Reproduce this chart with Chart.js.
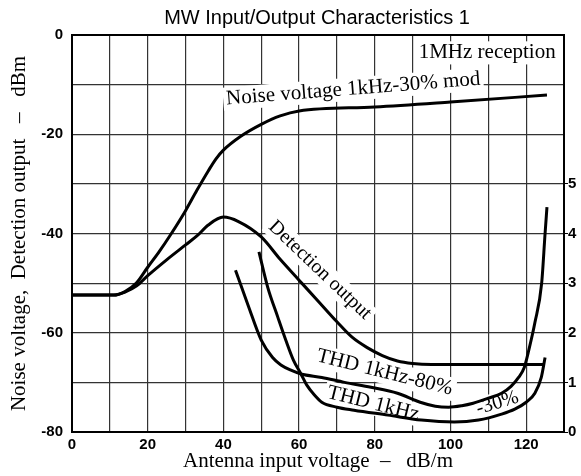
<!DOCTYPE html>
<html>
<head>
<meta charset="utf-8">
<script src="https://cdn.jsdelivr.net/npm/chart.js@4.4.1/dist/chart.umd.min.js"></script>
<style>
  body { margin: 0; background: #fff; }
  #wrap { width: 581px; height: 476px; position: relative; }
</style>
</head>
<body>
<div id="wrap"><canvas id="chart"></canvas></div>
<script>
// Values.
// Noise voltage and detection output are in dBm (left axis).
const noiseX = [0, 11, 14, 17, 20, 23, 26, 30, 33, 36, 38, 40, 44.6, 50, 55, 60, 80, 100, 125.5];
const noiseY = [-52.4, -52.4, -51.7, -50.0, -46.8, -43.7, -40.3, -35.4, -31.3, -27.4, -25.0, -23.2, -20.4, -18.0, -16.3, -15.3, -14.5, -13.5, -12.1];

const detX = [0, 11, 14, 17, 20, 25, 30, 33, 36, 40, 44, 50, 55, 60, 65, 70, 74, 78, 82, 86, 90, 95, 124.5];
const detY = [-52.4, -52.4, -51.8, -50.6, -48.5, -45.3, -42.3, -40.5, -38.3, -36.7, -37.6, -40.7, -45.2, -49.4, -53.6, -57.8, -60.9, -63, -64.6, -65.7, -66.2, -66.4, -66.4];

// THD curves are in % (right axis)
const thd80X = [43.2, 46.5, 50, 53, 55.2, 58, 60.5, 66, 72, 79, 86, 92, 96, 99.5, 103, 106, 110, 113.5, 116, 118, 119.5, 120.7, 122.3, 124.1, 125, 125.5];
const thd80Y = [3.26, 2.56, 1.85, 1.5, 1.35, 1.24, 1.17, 1.1, 1.0, 0.9, 0.78, 0.6, 0.52, 0.5, 0.53, 0.58, 0.68, 0.78, 0.92, 1.1, 1.3, 1.65, 2.2, 3.0, 4.0, 4.53];

const thd30X = [49.4, 51.7, 54.4, 56.5, 58.5, 60.5, 62, 64, 66, 70, 74.5, 83.5, 92.3, 101, 107.4, 113.5, 117, 120, 122.3, 124, 125];
const thd30Y = [3.63, 2.92, 2.31, 1.85, 1.45, 1.17, 0.95, 0.75, 0.6, 0.5, 0.44, 0.34, 0.24, 0.2, 0.24, 0.36, 0.46, 0.6, 0.78, 1.1, 1.5];

// tick labels that are printed
const xTickLabels = [0, 20, 40, 60, 80, 100, 120];
const leftTickLabels = [0, -20, -40, -60, -80];
const rightTickLabels = [0, 1, 2, 3, 4, 5];

// text written on the plot, placed in data units of the left axis
const curveLabels = [
  { text: '1MHz reception', x: 91.6, y: -3.6, angle: 0, size: 21, align: 'left' },
  { text: 'Noise voltage 1kHz-30% mod', x: 74.3, y: -10.9, angle: -4.5, size: 21 },
  { text: 'Detection output', x: 65.5, y: -47.4, angle: 43.6, size: 20 },
  { text: 'THD 1kHz-80%', x: 82.6, y: -68.0, angle: 14, size: 21 },
  { text: 'THD 1kHz', x: 79.6, y: -74.3, angle: 14, size: 21 },
  { text: '-30%', x: 112.4, y: -74.2, angle: -17, size: 20 },
];

function toPoints(xs, ys) {
  return xs.map((x, i) => ({ x: x, y: ys[i] }));
}

const serif = '"Liberation Serif", "Times New Roman", serif';
const sans = '"Liberation Sans", Arial, sans-serif';

// draws the labels (with white backing) and the frame, then the title
const labelPlugin = {
  id: 'curveLabels',
  beforeDatasetsDraw(chart) {
    const ctx = chart.ctx;
    const xs = chart.scales.x, ys = chart.scales.y;
    ctx.save();
    curveLabels.forEach(l => {
      const px = xs.getPixelForValue(l.x);
      const py = ys.getPixelForValue(l.y);
      ctx.save();
      ctx.translate(px, py);
      ctx.rotate(l.angle * Math.PI / 180);
      ctx.font = l.size + 'px ' + serif;
      ctx.textAlign = l.align || 'center';
      ctx.textBaseline = 'middle';
      const w = ctx.measureText(l.text).width;
      const x0 = l.align == 'left' ? 0 : -w / 2;
      ctx.fillStyle = '#fff';
      ctx.fillRect(x0 - 3, -l.size * 0.55, w + 6, l.size * 1.1);
      ctx.fillStyle = '#000';
      ctx.fillText(l.text, 0, 0);
      ctx.restore();
    });
    const a = chart.chartArea;
    ctx.strokeStyle = '#000';
    ctx.lineWidth = 2;
    ctx.strokeRect(a.left, a.top, a.right - a.left, a.bottom - a.top);
    ctx.restore();
  },
  afterDraw(chart) {
    const ctx = chart.ctx;
    ctx.save();
    ctx.font = '20px ' + sans;
    ctx.fillStyle = '#000';
    ctx.textAlign = 'center';
    ctx.textBaseline = 'alphabetic';
    ctx.fillText('MW Input/Output Characteristics 1', 317, 24);
    ctx.restore();
  }
};

const lineStyle = {
  borderColor: '#000',
  borderWidth: 3,
  pointRadius: 0,
  fill: false,
  cubicInterpolationMode: 'monotone',
};

new Chart(document.getElementById('chart'), {
  type: 'line',
  data: {
    datasets: [
      Object.assign({ label: 'Noise voltage', data: toPoints(noiseX, noiseY), yAxisID: 'y' }, lineStyle),
      Object.assign({ label: 'Detection output', data: toPoints(detX, detY), yAxisID: 'y' }, lineStyle),
      Object.assign({ label: 'THD 1kHz-80%', data: toPoints(thd80X, thd80Y), yAxisID: 'y2' }, lineStyle),
      Object.assign({ label: 'THD 1kHz-30%', data: toPoints(thd30X, thd30Y), yAxisID: 'y2' }, lineStyle),
    ]
  },
  options: {
    responsive: true,
    maintainAspectRatio: false,
    animation: false,
    layout: { padding: { top: 35, left: 0, right: 0, bottom: 0 } },
    plugins: {
      legend: { display: false },
      title: { display: false },
      tooltip: { enabled: false },
    },
    scales: {
      x: {
        type: 'linear',
        min: 0,
        max: 130,
        afterFit: s => { s.height = 44; },
        border: { display: true, color: '#000', width: 2 },
        grid: { color: '#333', lineWidth: 1.2, drawTicks: false },
        ticks: {
          stepSize: 10,
          autoSkip: false,
          maxRotation: 0,
          padding: 4,
          color: '#000',
          font: { family: sans, size: 15, weight: 'bold' },
          callback: v => xTickLabels.includes(v) ? String(v) : '',
        },
        title: {
          display: true,
          text: 'Antenna input voltage  \u2013   dB/m',
          color: '#000',
          font: { family: serif, size: 21 },
          padding: { top: 0, bottom: 2 },
        },
      },
      y: {
        position: 'left',
        min: -80,
        max: 0,
        afterFit: s => { s.width = 72; },
        border: { display: true, color: '#000', width: 2 },
        grid: { color: '#333', lineWidth: 1.2, drawTicks: false },
        ticks: {
          stepSize: 10,
          autoSkip: false,
          padding: 9,
          color: '#000',
          font: { family: sans, size: 15, weight: 'bold' },
          callback: v => leftTickLabels.includes(v) ? String(v) : '',
        },
        title: {
          display: true,
          text: 'Noise voltage,  Detection output   \u2013   dBm',
          color: '#000',
          font: { family: serif, size: 21 },
          padding: { top: 7, bottom: 0 },
        },
      },
      y2: {
        position: 'right',
        min: 0,
        max: 8,
        afterFit: s => { s.width = 17; },
        border: { display: true, color: '#000', width: 2 },
        grid: {
          drawOnChartArea: false,
          drawTicks: true,
          tickLength: 4,
          color: ctx => (ctx.tick && ctx.tick.value <= 5) ? '#000' : 'rgba(0,0,0,0)',
        },
        ticks: {
          stepSize: 1,
          autoSkip: false,
          padding: 0,
          color: '#000',
          font: { family: sans, size: 15, weight: 'bold' },
          callback: v => rightTickLabels.includes(v) ? String(v) : '',
        },
      },
    },
  },
  plugins: [labelPlugin],
});
</script>
</body>
</html>
